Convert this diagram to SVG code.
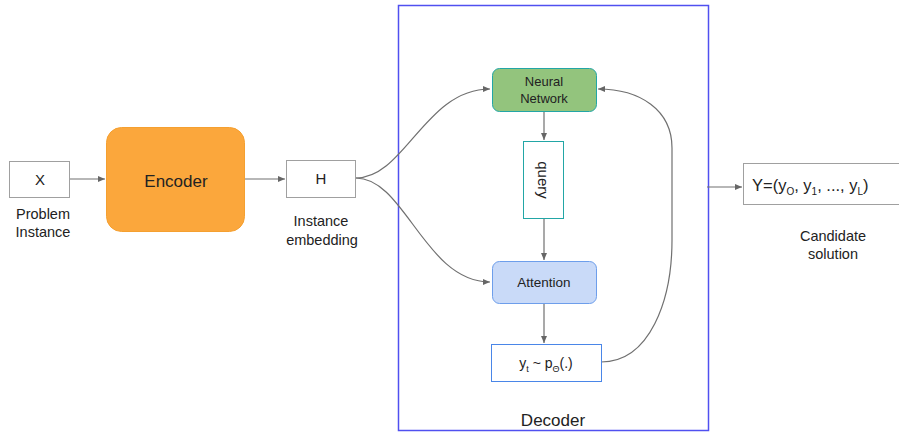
<svg xmlns="http://www.w3.org/2000/svg" width="899" height="433" viewBox="0 0 899 433">
<defs>
<marker id="ah" markerWidth="8" markerHeight="8" refX="7" refY="4" orient="auto" markerUnits="userSpaceOnUse">
<path d="M0,1 L7,4 L0,7 z" fill="#666"/>
</marker>
<style>
text{font-family:"Liberation Sans",Arial,sans-serif;fill:#222;}
.lbl{font-size:14.5px;text-anchor:middle;}
.conn{fill:none;stroke:#707070;stroke-width:1.2;}
.plain{fill:#fff;stroke:#a0a0a0;stroke-width:1;}
</style>
</defs>
<rect width="899" height="433" fill="#fff"/>
<g id="decoder">
<rect x="398.5" y="5.5" width="310" height="425" fill="none" stroke="#5050f0" stroke-width="1.5"/>
<text x="553" y="426" class="lbl" style="font-size:17px">Decoder</text>
</g>
<g id="connectors">
<path class="conn" d="M69,179 L105,179" marker-end="url(#ah)"/>
<path class="conn" d="M245,179 L285,179" marker-end="url(#ah)"/>
<path class="conn" d="M356,178 C405,178 425,89 490,89" marker-end="url(#ah)"/>
<path class="conn" d="M356,178 C405,178 425,282 490,282" marker-end="url(#ah)"/>
<path class="conn" d="M544,111 L544,140" marker-end="url(#ah)"/>
<path class="conn" d="M544,218 L544,260" marker-end="url(#ah)"/>
<path class="conn" d="M544,303 L544,343" marker-end="url(#ah)"/>
<path class="conn" d="M601,362 C650,362 672,300 672,240 L672,148 C672,110 640,89 598,89" marker-end="url(#ah)"/>
<path class="conn" d="M707,187 L742,187" marker-end="url(#ah)"/>
</g>
<g id="x">
<rect class="plain" x="9.5" y="161.5" width="60" height="36"/>
<text x="40" y="185" class="lbl" style="font-size:15px">X</text>
<text x="43" y="219" class="lbl">Problem</text>
<text x="43" y="237" class="lbl">Instance</text>
</g>
<g id="encoder">
<rect x="106.5" y="127.5" width="138" height="104" rx="15" fill="#fba73c" stroke="#f5a030"/>
<text x="176" y="187" class="lbl" style="font-size:17px">Encoder</text>
</g>
<g id="h">
<rect class="plain" x="286.5" y="160.5" width="69" height="37"/>
<text x="321" y="184" class="lbl" style="font-size:15px">H</text>
<text x="321" y="226" class="lbl">Instance</text>
<text x="322" y="245" class="lbl">embedding</text>
</g>
<g id="neural">
<rect x="492.5" y="68.5" width="104" height="43" rx="7" fill="#93c47d" stroke="#22a6a6"/>
<text x="544" y="86" class="lbl" style="font-size:13px">Neural</text>
<text x="544" y="103" class="lbl" style="font-size:13px">Network</text>
</g>
<g id="query">
<rect x="523.5" y="141.5" width="40" height="77" fill="#fff" stroke="#22a6a6"/>
<text transform="translate(538,180) rotate(90)" class="lbl" style="font-size:15px">query</text>
</g>
<g id="attention">
<rect x="492.5" y="261.5" width="104" height="42" rx="7" fill="#c9daf8" stroke="#6d9eeb"/>
<text x="544" y="287" class="lbl" style="font-size:13.5px">Attention</text>
</g>
<g id="sample">
<rect x="491.5" y="344.5" width="110" height="37" fill="#fff" stroke="#4a86e8"/>
<text x="546" y="368" class="lbl" style="font-size:14px">y<tspan dy="4" font-size="9">t</tspan><tspan dy="-4"> ~ p</tspan><tspan dy="4" font-size="9">Θ</tspan><tspan dy="-4">(.)</tspan></text>
</g>
<g id="y">
<rect x="743.5" y="163.5" width="160" height="41" fill="#fff" stroke="#a0a0a0"/>
<text x="752" y="191" style="font-size:16.5px">Y=(y<tspan dy="4" font-size="10">O</tspan><tspan dy="-4">, y</tspan><tspan dy="4" font-size="10">1</tspan><tspan dy="-4">, ..., y</tspan><tspan dy="4" font-size="10">L</tspan><tspan dy="-4">)</tspan></text>
<text x="833" y="241" class="lbl">Candidate</text>
<text x="833" y="259" class="lbl">solution</text>
</g>
</svg>
